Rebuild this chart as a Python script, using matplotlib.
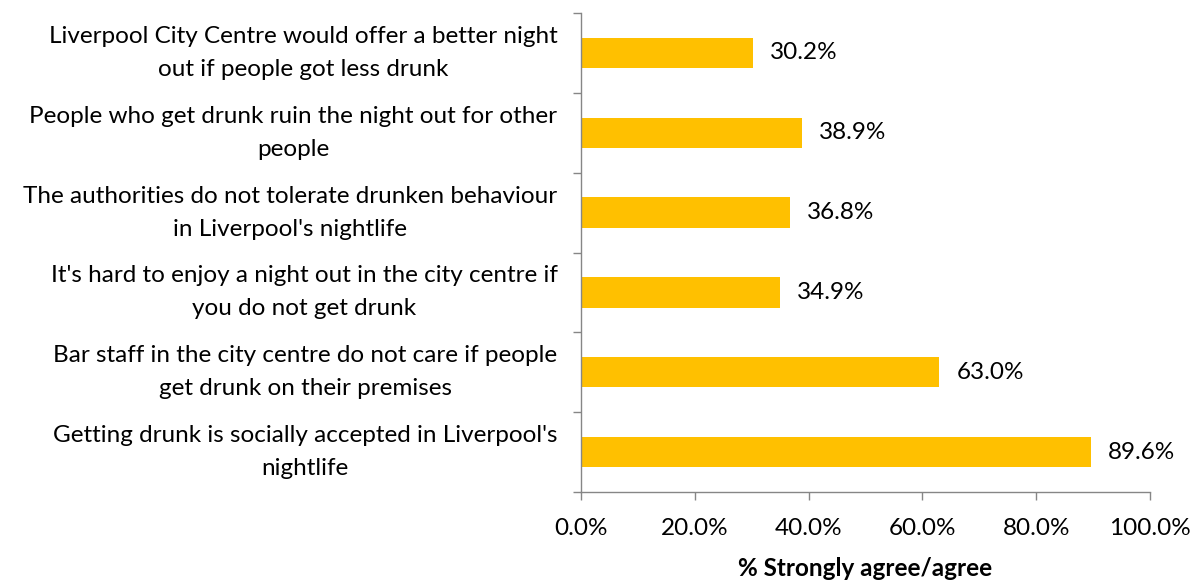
import matplotlib
matplotlib.use("Agg")
import matplotlib.pyplot as plt
import numpy as np
from matplotlib.ticker import FixedLocator, FuncFormatter

statements = [
    "Liverpool City Centre would offer a better night\nout if people got less drunk",
    "People who get drunk ruin the night out for other\npeople",
    "The authorities do not tolerate drunken behaviour\nin Liverpool's nightlife",
    "It's hard to enjoy a night out in the city centre if\nyou do not get drunk",
    "Bar staff in the city centre do not care if people\nget drunk on their premises",
    "Getting drunk is socially accepted in Liverpool's\nnightlife",
]
agree_pct = [30.2, 38.9, 36.8, 34.9, 63.0, 89.6]
x_ticks = [0, 20, 40, 60, 80, 100]
x_label = "% Strongly agree/agree"

plt.rcParams["font.family"] = ["Lato", "DejaVu Sans"]
bar_color = "#FFC000"
axis_color = "#868686"
fs = 17.5

fig = plt.figure(figsize=(11.99, 5.82), dpi=100)
ax = fig.add_axes([0.4846, 0.1546, 0.9591 - 0.4846, 0.9777 - 0.1546])

n = len(statements)
pos = np.arange(n)
ax.barh(pos, agree_pct, height=0.38, color=bar_color, zorder=2)
ax.set_ylim(n - 0.5, -0.5)
ax.set_xlim(0, 100)

for p, v in zip(pos, agree_pct):
    ax.annotate(f"{v:.1f}%", xy=(v, p), xytext=(17, 0), textcoords="offset pixels",
                ha="left", va="center", fontsize=fs, color="#000000")

# category boundaries carry the tick marks; labels sit at bar centres
ax.yaxis.set_major_locator(FixedLocator(np.arange(n + 1) - 0.5))
ax.yaxis.set_major_formatter(FuncFormatter(lambda v, p: ""))
ax.yaxis.set_minor_locator(FixedLocator(pos))
ax.set_yticklabels(statements, minor=True)
ax.tick_params(axis="y", which="major", direction="out", length=6, width=1, color=axis_color)
ax.tick_params(axis="y", which="minor", length=0, pad=17, labelsize=fs)
for lbl in ax.get_yticklabels(minor=True):
    lbl.set_multialignment("center")
    lbl.set_verticalalignment("center")
    lbl.set_linespacing(1.7)

ax.set_xticks(x_ticks)
ax.set_xticklabels([f"{t:.1f}%" for t in x_ticks])
ax.tick_params(axis="x", direction="out", length=6, width=1, color=axis_color,
               labelsize=fs, pad=13)
ax.set_xlabel(x_label, fontsize=fs, fontweight="bold", labelpad=13)

for s in ("top", "right"):
    ax.spines[s].set_visible(False)
for s in ("left", "bottom"):
    ax.spines[s].set_color(axis_color)
    ax.spines[s].set_linewidth(1)

fig.savefig("out.png", dpi=100, facecolor="white")
